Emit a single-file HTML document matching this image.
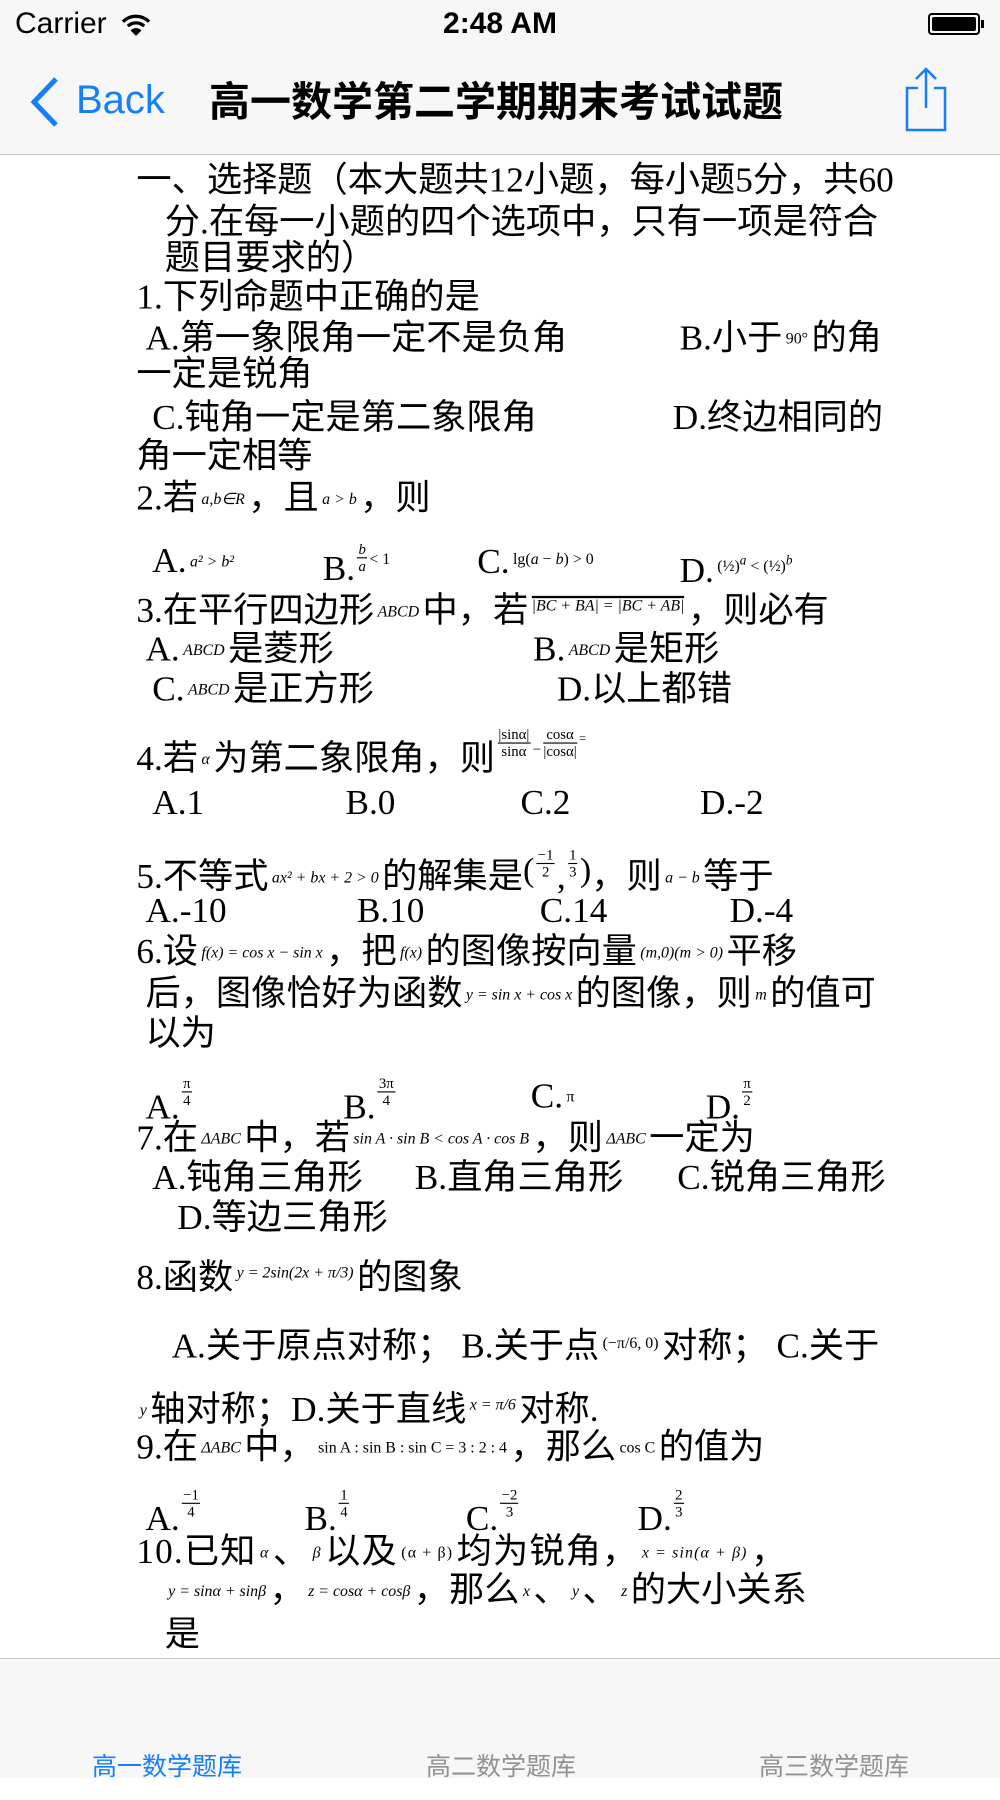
<!DOCTYPE html>
<html><head><meta charset="utf-8">
<style>
*{margin:0;padding:0;box-sizing:border-box}
body{width:1000px;height:1778px;position:relative;background:#fff;overflow:hidden;font-family:"Liberation Serif","Noto Sans CJK SC",serif;color:#000}
#c{position:absolute;left:0;top:22px;width:880px;height:1565px;transform:scale(1.1364);transform-origin:0 0}
#c2{position:absolute;left:0;top:-18px;width:880px;height:1565px}
.l{position:absolute;font-size:31px;line-height:36px;white-space:nowrap}
.m{font-size:14px;font-style:italic;font-family:"Liberation Serif",serif;vertical-align:5px;margin:0 3px}
.fr{display:inline-block;vertical-align:middle;text-align:center;font-size:13px;line-height:14px;font-family:"Liberation Serif",serif;margin:0 2px}
.fr span{display:block}
.fr .n{border-bottom:1px solid #000;padding:0 1px}
#nav{position:absolute;left:0;top:0;width:1000px;height:155px;background:#f7f7f7;border-bottom:1.5px solid #c8c8cc;z-index:2}
#tab{position:absolute;left:0;top:1658px;width:1000px;height:120px;background:#f7f7f7;border-top:1.5px solid #c8c8cc;z-index:2}
.sans{font-family:"Liberation Sans","Noto Sans CJK SC",sans-serif}
</style></head><body>
<div id="nav">
 <div class="sans" style="position:absolute;left:15px;top:7px;font-size:30px">Carrier</div>
 <svg style="position:absolute;left:121px;top:13px" width="30" height="24" viewBox="0 0 26 22"><path d="M1 8 A17 17 0 0 1 25 8" stroke="#000" stroke-width="3" fill="none"/><path d="M5.5 12 A11 11 0 0 1 20.5 12" stroke="#000" stroke-width="3" fill="none"/><path d="M13 21 L8 16 A7 7 0 0 1 18 16 Z" fill="#000"/></svg>
 <div class="sans" style="position:absolute;left:0;width:1000px;top:7px;text-align:center;font-size:30px;font-weight:bold">2:48 AM</div>
 <div style="position:absolute;left:928px;top:13px;width:52px;height:22px;border:2px solid #000;border-radius:4px;padding:2px"><div style="width:100%;height:100%;background:#000;border-radius:2px"></div></div>
 <div style="position:absolute;left:981px;top:20px;width:3px;height:8px;background:#000"></div>
 <svg style="position:absolute;left:28px;top:76px" width="34" height="52" viewBox="0 0 34 52"><path d="M28 3 L6 26 L28 49" stroke="#157efb" stroke-width="5" fill="none"/></svg>
 <div class="sans" style="position:absolute;left:76px;top:78px;font-size:40px;color:#157efb">Back</div>
 <div class="sans" style="position:absolute;left:209px;top:78px;font-size:41px;font-weight:bold;line-height:48px">高一数学第二学期期末考试试题</div>
 <svg style="position:absolute;left:904px;top:66px" width="44" height="66" viewBox="0 0 44 66"><path d="M14 22 H3 V64 H41 V22 H30" stroke="#157efb" stroke-width="2.5" fill="none"/><path d="M22 42 V3 M12 13 L22 3 L32 13" stroke="#157efb" stroke-width="2.5" fill="none"/></svg>
</div>

<div id="c">
<div class="l" style="left:120px;top:121px">一、选择题（本大题共12小题，每小题5分，共60</div>
<div class="l" style="left:145px;top:158px">分.在每一小题的四个选项中，只有一项是符合</div>
<div class="l" style="left:145px;top:190px">题目要求的）</div>
<div class="l" style="left:120px;top:224px">1.下列命题中正确的是</div>
<div class="l" style="left:128px;top:260px">A.第一象限角一定不是负角</div>
<div class="l" style="left:598px;top:260px">B.小于<span class="m" style="font-style:normal">90°</span>的角</div>
<div class="l" style="left:120px;top:292px">一定是锐角</div>
<div class="l" style="left:134px;top:330px">C.钝角一定是第二象限角</div>
<div class="l" style="left:592px;top:330px">D.终边相同的</div>
<div class="l" style="left:120px;top:364px">角一定相等</div>
<div class="l" style="left:120px;top:401px">2.若<span class="m">a,b∈R</span>，且<span class="m">a &gt; b</span>，则</div>
<div class="l" style="left:134px;top:456px">A.<span class="m">a² &gt; b²</span></div>
<div class="l" style="left:284px;top:456px">B.<span class="fr" style="vertical-align:8px"><span class="n"><i>b</i></span><span><i>a</i></span></span><span class="m" style="font-style:normal;margin:0;vertical-align:14px">&lt; 1</span></div>
<div class="l" style="left:420px;top:456px">C.<span class="m" style="font-style:normal;vertical-align:8px">lg(<i>a</i> − <i>b</i>) &gt; 0</span></div>
<div class="l" style="left:598px;top:456px">D.<span class="m" style="font-style:normal;vertical-align:10px">(½)<sup><i>a</i></sup> &lt; (½)<sup><i>b</i></sup></span></div>
<div class="l" style="left:120px;top:497px">3.在平行四边形<span class="m">ABCD</span>中，若<span class="m" style="vertical-align:10px;border-top:2px solid #000">|BC + BA| = |BC + AB|</span>，则必有</div>
<div class="l" style="left:128px;top:534px">A.<span class="m">ABCD</span>是菱形</div>
<div class="l" style="left:469px;top:534px">B.<span class="m">ABCD</span>是矩形</div>
<div class="l" style="left:134px;top:569px">C.<span class="m">ABCD</span>是正方形</div>
<div class="l" style="left:490px;top:569px">D.以上都错</div>
<div id="c2">
<div class="l" style="left:120px;top:631px">4.若<span class="m">α</span>为第二象限角，则<span class="fr" style="vertical-align:12px"><span class="n">|sinα|</span><span>sinα</span></span><span style="font-size:13px;vertical-align:14px">−</span><span class="fr" style="vertical-align:12px"><span class="n">cosα</span><span>|cosα|</span></span><span style="font-size:11px;vertical-align:24px">=</span></div>
<div class="l" style="left:134px;top:687px">A.1</div>
<div class="l" style="left:304px;top:687px">B.0</div>
<div class="l" style="left:458px;top:687px">C.2</div>
<div class="l" style="left:616px;top:687px">D.-2</div>
<div class="l" style="left:120px;top:744px">5.不等式<span class="m">ax² + bx + 2 &gt; 0</span>的解集是<span style="font-size:30px;vertical-align:6px">(</span><span class="fr" style="vertical-align:10px"><span class="n">−1</span><span>2</span></span>,<span class="fr" style="vertical-align:10px"><span class="n">1</span><span>3</span></span><span style="font-size:30px;vertical-align:6px">)</span>，则<span class="m">a − b</span>等于</div>
<div class="l" style="left:128px;top:782px">A.-10</div>
<div class="l" style="left:314px;top:782px">B.10</div>
<div class="l" style="left:475px;top:782px">C.14</div>
<div class="l" style="left:642px;top:782px">D.-4</div>
<div class="l" style="left:120px;top:818px">6.设<span class="m">f(x) = cos x − sin x</span>，把<span class="m">f(x)</span>的图像按向量<span class="m">(m,0)(m &gt; 0)</span>平移</div>
<div class="l" style="left:128px;top:855px">后，图像恰好为函数<span class="m">y = sin x + cos x</span>的图像，则<span class="m">m</span>的值可</div>
<div class="l" style="left:128px;top:890px">以为</div>
<div class="l" style="left:128px;top:945px">A.<span class="fr" style="vertical-align:12px"><span class="n">π</span><span>4</span></span></div>
<div class="l" style="left:302px;top:945px">B.<span class="fr" style="vertical-align:12px"><span class="n">3π</span><span>4</span></span></div>
<div class="l" style="left:467px;top:945px">C.<span class="m" style="font-style:normal">π</span></div>
<div class="l" style="left:621px;top:945px">D.<span class="fr" style="vertical-align:12px"><span class="n">π</span><span>2</span></span></div>
<div class="l" style="left:120px;top:982px">7.在<span class="m">ΔABC</span>中，若<span class="m">sin A · sin B &lt; cos A · cos B</span>，则<span class="m">ΔABC</span>一定为</div>
<div class="l" style="left:134px;top:1017px">A.钝角三角形</div>
<div class="l" style="left:365px;top:1017px">B.直角三角形</div>
<div class="l" style="left:596px;top:1017px">C.锐角三角形</div>
<div class="l" style="left:156px;top:1052px">D.等边三角形</div>
<div class="l" style="left:120px;top:1102px">8.函数<span class="m" style="vertical-align:10px">y = 2sin(2x + π/3)</span>的图象</div>
<div class="l" style="left:151px;top:1164px">A.关于原点对称；&nbsp;B.关于点<span class="m" style="font-style:normal;vertical-align:8px">(−π/6, 0)</span>对称；&nbsp;C.关于</div>
<div class="l" style="left:120px;top:1218px"><span class="m">y</span>轴对称；D.关于直线<span class="m" style="vertical-align:10px">x = π/6</span>对称.</div>
<div class="l" style="left:120px;top:1254px">9.在<span class="m">ΔABC</span>中，<span class="m" style="font-style:normal">sin A : sin B : sin C = 3 : 2 : 4</span>，那么<span class="m" style="font-style:normal">cos C</span>的值为</div>
<div class="l" style="left:128px;top:1307px">A.<span class="fr" style="vertical-align:12px"><span class="n">−1</span><span>4</span></span></div>
<div class="l" style="left:268px;top:1307px">B.<span class="fr" style="vertical-align:12px"><span class="n">1</span><span>4</span></span></div>
<div class="l" style="left:410px;top:1307px">C.<span class="fr" style="vertical-align:12px"><span class="n">−2</span><span>3</span></span></div>
<div class="l" style="left:561px;top:1307px">D.<span class="fr" style="vertical-align:12px"><span class="n">2</span><span>3</span></span></div>
<div class="l" style="left:120px;top:1346px;letter-spacing:1px">10.已知<span class="m">α</span>、<span class="m">β</span>以及<span class="m" style="font-style:normal">(α + β)</span>均为锐角，<span class="m">x = sin(α + β)</span>，</div>
<div class="l" style="left:145px;top:1380px"><span class="m">y = sinα + sinβ</span>，<span class="m">z = cosα + cosβ</span>，那么<span class="m">x</span>、<span class="m">y</span>、<span class="m">z</span>的大小关系</div>
<div class="l" style="left:145px;top:1419px">是</div>
<div class="l" style="left:134px;top:1455px">A.&nbsp;&nbsp;&nbsp;&nbsp;&nbsp;&nbsp;&nbsp;&nbsp;&nbsp;&nbsp;&nbsp;&nbsp;&nbsp;&nbsp;B.&nbsp;&nbsp;&nbsp;&nbsp;&nbsp;&nbsp;&nbsp;&nbsp;&nbsp;&nbsp;&nbsp;&nbsp;&nbsp;&nbsp;C.&nbsp;&nbsp;&nbsp;&nbsp;&nbsp;&nbsp;&nbsp;&nbsp;&nbsp;&nbsp;&nbsp;&nbsp;&nbsp;&nbsp;D.</div>
</div>
</div>

<div id="tab">
 <div class="sans" style="position:absolute;left:92px;top:88px;font-size:25px;color:#157efb">高一数学题库</div>
 <div class="sans" style="position:absolute;left:426px;top:88px;font-size:25px;color:#929292">高二数学题库</div>
 <div class="sans" style="position:absolute;left:759px;top:88px;font-size:25px;color:#929292">高三数学题库</div>
</div>
</body></html>
